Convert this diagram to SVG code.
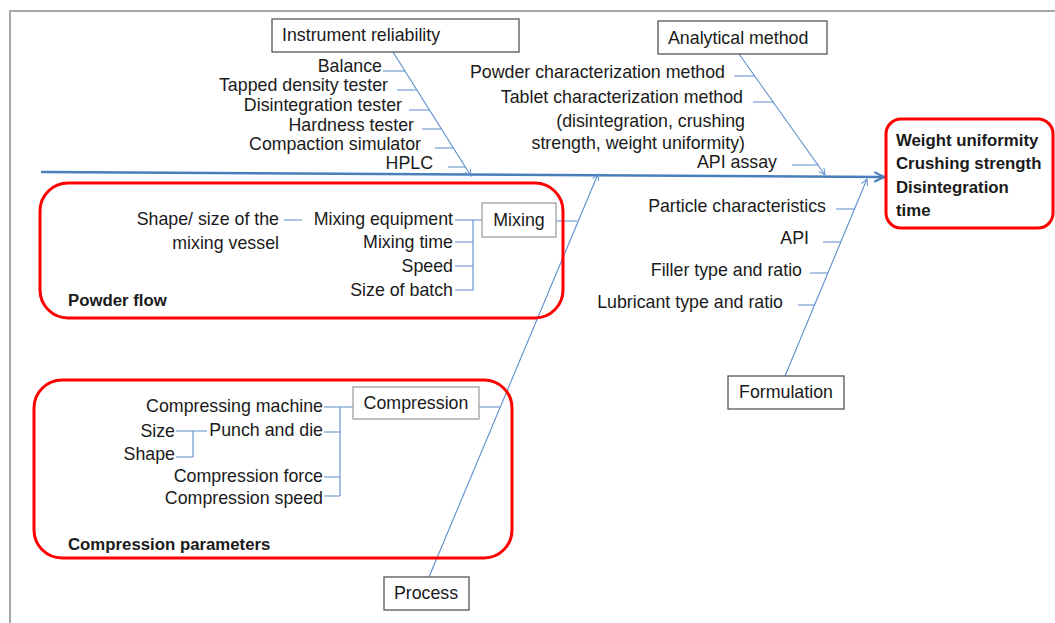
<svg xmlns="http://www.w3.org/2000/svg" width="1055" height="623" viewBox="0 0 1055 623">
<defs>
<style>
text{font-family:"Liberation Sans",Arial,sans-serif;font-size:17.8px;fill:#1a1a1a}
.r{text-anchor:end}
.c{text-anchor:middle}
.b{font-weight:bold;font-size:16.8px}
.box{fill:#fff;stroke:#555;stroke-width:1.3}
.gbox{fill:#fff;stroke:#a0a0a0;stroke-width:1.3}
.red{fill:none;stroke:#ff0000;stroke-width:3}
.thin{stroke:#5b8ccc;stroke-width:1.1;fill:none}
.spine{stroke:#4a7ebb;stroke-width:2.5;fill:none}
</style>
<marker id="ah" viewBox="0 0 10 10" refX="9" refY="5" markerWidth="8" markerHeight="8" orient="auto" markerUnits="userSpaceOnUse">
<path d="M1,1 L9,5 L1,9" fill="none" stroke="#5b8ccc" stroke-width="1.2"/>
</marker>
<marker id="ahb" viewBox="0 0 10 10" refX="9" refY="5" markerWidth="12" markerHeight="12" orient="auto" markerUnits="userSpaceOnUse">
<path d="M1,1 L9,5 L1,9" fill="none" stroke="#4a7ebb" stroke-width="1.8"/>
</marker>
</defs>
<rect width="1055" height="623" fill="#fff"/>
<path d="M10,623 V11 H1055" fill="none" stroke="#a6a6a6" stroke-width="2"/>

<g id="connectors">
<line class="spine" x1="41" y1="172" x2="884" y2="177" marker-end="url(#ahb)"/>
<line class="thin" x1="393" y1="52" x2="471" y2="176" marker-end="url(#ah)"/>
<line class="thin" x1="739" y1="54" x2="825" y2="175" marker-end="url(#ah)"/>
<line class="thin" x1="429" y1="577" x2="598" y2="174" marker-end="url(#ah)"/>
<line class="thin" x1="785" y1="376" x2="867" y2="179" marker-end="url(#ah)"/>
<path class="thin" d="M383,71 H405 M397,90 H417 M409,110 H429.5 M422,129 H441.5 M435,148 H453.5 M448,167 H465.5"/>
<path class="thin" d="M734,76 H754.5 M753,102 H773.5 M792,165 H818"/>
<path class="thin" d="M836,209 H854.5 M823,242 H841 M810,273 H828 M798,305 H815"/>
<path class="thin" d="M284,220 H302 M455,220 H473 M455,242 H473 M455,266 H473 M455,290 H473 M473,220 V290 M473,220 H482 M556,221 H577"/>
<path class="thin" d="M324,407 H340 M324,432 H340 M324,477 H340 M324,496 H340 M340,407 V496 M340,407 H353 M479,407 H500"/>
<path class="thin" d="M176,431 H193 M176,457 H193 M193,431 V457 M193,431 H207"/>
</g>

<g id="group-powder-flow">
<rect class="red" x="40" y="183" width="523" height="135" rx="28"/>
<text class="b" x="68" y="306">Powder flow</text>
</g>
<g id="group-compression-parameters">
<rect class="red" x="34" y="380" width="478" height="178" rx="28"/>
<text class="b" x="68" y="550">Compression parameters</text>
</g>

<g id="node-instrument">
<rect class="box" x="272" y="19" width="247" height="33"/>
<text x="282" y="41">Instrument reliability</text>
<text class="r" x="382" y="72">Balance</text>
<text class="r" x="388" y="91">Tapped density tester</text>
<text class="r" x="402" y="111">Disintegration tester</text>
<text class="r" x="414" y="131">Hardness tester</text>
<text class="r" x="421" y="150">Compaction simulator</text>
<text class="r" x="433" y="169">HPLC</text>
</g>

<g id="node-analytical">
<rect class="box" x="658" y="21" width="169" height="33"/>
<text x="668" y="44">Analytical method</text>
<text class="r" x="725" y="78">Powder characterization method</text>
<text class="r" x="743" y="103">Tablet characterization method</text>
<text class="r" x="745" y="127">(disintegration, crushing</text>
<text class="r" x="745" y="149">strength, weight uniformity)</text>
<text class="r" x="777" y="168">API assay</text>
</g>

<g id="node-effect">
<rect class="red" x="886" y="119" width="167" height="109" rx="15" fill="#fff"/>
<text class="b" x="896" y="146">Weight uniformity</text>
<text class="b" x="896" y="169">Crushing strength</text>
<text class="b" x="896" y="193">Disintegration</text>
<text class="b" x="896" y="216">time</text>
</g>

<g id="node-mixing">
<rect class="gbox" x="482" y="203" width="74" height="34"/>
<text class="c" x="519" y="226">Mixing</text>
<text class="r" x="453" y="225">Mixing equipment</text>
<text class="r" x="453" y="248">Mixing time</text>
<text class="r" x="453" y="272">Speed</text>
<text class="r" x="453" y="296">Size of batch</text>
<text class="r" x="279" y="225">Shape/ size of the</text>
<text class="r" x="279" y="249">mixing vessel</text>
</g>

<g id="node-compression">
<rect class="gbox" x="353" y="387" width="126" height="32"/>
<text class="c" x="416" y="409">Compression</text>
<text class="r" x="323" y="412">Compressing machine</text>
<text class="r" x="323" y="436">Punch and die</text>
<text class="r" x="323" y="482">Compression force</text>
<text class="r" x="323" y="504">Compression speed</text>
<text class="r" x="175" y="437">Size</text>
<text class="r" x="175" y="460">Shape</text>
</g>

<g id="node-process">
<rect class="box" x="384" y="577" width="85" height="33"/>
<text class="c" x="426" y="599">Process</text>
</g>

<g id="node-formulation">
<rect class="box" x="728" y="376" width="116" height="33"/>
<text class="c" x="786" y="398">Formulation</text>
<text class="r" x="826" y="212">Particle characteristics</text>
<text class="r" x="809" y="244">API</text>
<text class="r" x="802" y="276">Filler type and ratio</text>
<text class="r" x="783" y="308">Lubricant type and ratio</text>
</g>
</svg>
